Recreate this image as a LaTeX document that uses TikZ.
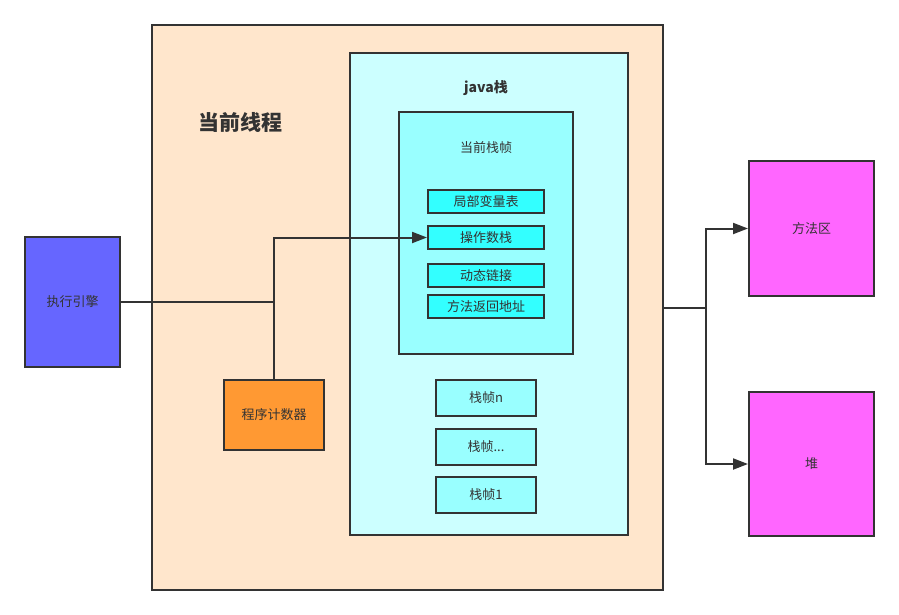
\documentclass[tikz,border=0pt]{standalone}
\usepackage{fontspec}
\usepackage{tikz}
\usetikzlibrary{arrows.meta}
\newfontfamily\cjk{Noto Sans CJK SC}
\definecolor{linec}{HTML}{333333}
\definecolor{peach}{HTML}{FFE6CC}
\definecolor{palecyan}{HTML}{CCFFFF}
\definecolor{midcyan}{HTML}{99FFFF}
\definecolor{brightcyan}{HTML}{33FFFF}
\definecolor{engineblue}{HTML}{6666FF}
\definecolor{pcorange}{HTML}{FF9933}
\definecolor{memmagenta}{HTML}{FF66FF}
\pgfdeclarelayer{edgelayer}
\pgfdeclarelayer{nodelayer}
\pgfsetlayers{nodelayer,main,edgelayer}
\tikzstyle{box}=[rectangle, draw=linec, line width=2pt, text=linec, font=\cjk\fontsize{13}{15}\selectfont, inner sep=0pt]
\tikzstyle{label}=[text=linec, font=\cjk\fontsize{13}{15}\selectfont, inner sep=0pt]
\tikzstyle{title}=[text=linec, font=\cjk\bfseries\fontsize{14}{16}\selectfont, inner sep=0pt]
\tikzstyle{link}=[draw=linec, line width=2pt]
\tikzstyle{arrowlink}=[draw=linec, line width=2pt, -{Triangle[length=15pt,width=11pt]}]

\begin{document}
\begin{tikzpicture}[x=1pt, y=-1pt]
				\useasboundingbox (0,0) rectangle (899,615);
				\begin{pgfonlayer}{nodelayer}
					\node [style=box, fill=peach, minimum width=511pt, minimum height=565pt] (thread) at (407.5, 307.5) {};
					\node [style=title, font=\cjk\bfseries\fontsize{21}{24}\selectfont] (threadlabel) at (240, 122) {当前线程};
					\node [style=box, fill=palecyan, minimum width=278pt, minimum height=482pt] (javastack) at (489, 294) {};
					\node [style=title] (stacklabel) at (486, 88) {java栈};
					\node [style=box, fill=midcyan, minimum width=174pt, minimum height=242pt] (curframe) at (486, 233) {};
					\node [style=label] (framelabel) at (486, 148) {当前栈帧};
					\node [style=box, fill=brightcyan, minimum width=116pt, minimum height=23pt] (locals) at (486, 201.5) {局部变量表};
					\node [style=box, fill=brightcyan, minimum width=116pt, minimum height=23pt] (opstack) at (486, 237.5) {操作数栈};
					\node [style=box, fill=brightcyan, minimum width=116pt, minimum height=23pt] (dynlink) at (486, 275.5) {动态链接};
					\node [style=box, fill=brightcyan, minimum width=116pt, minimum height=23pt] (retaddr) at (486, 306.5) {方法返回地址};
					\node [style=box, fill=midcyan, minimum width=100pt, minimum height=36pt] (framen) at (486, 398) {栈帧n};
					\node [style=box, fill=midcyan, minimum width=100pt, minimum height=36pt] (framedots) at (486, 447) {栈帧...};
					\node [style=box, fill=midcyan, minimum width=100pt, minimum height=36pt] (frameone) at (486, 495) {栈帧1};
					\node [style=box, fill=engineblue, minimum width=95pt, minimum height=130pt] (engine) at (72.5, 302) {执行引擎};
					\node [style=box, fill=pcorange, minimum width=100pt, minimum height=70pt] (pc) at (274, 415) {程序计数器};
					\node [style=box, fill=memmagenta, minimum width=125pt, minimum height=135pt] (methodarea) at (811.5, 228.5) {方法区};
					\node [style=box, fill=memmagenta, minimum width=125pt, minimum height=144pt] (heap) at (811.5, 464) {堆};
				\end{pgfonlayer}
				\begin{pgfonlayer}{edgelayer}
					\coordinate (join) at (pc.north |- engine.east);
					\coordinate (split) at (706, 307.5);
					\draw [style=link] (engine.east) to (join);
					\draw [style=arrowlink] (pc.north) |- (opstack.west);
					\draw [style=link] (thread.east) to (split);
					\draw [style=arrowlink] (split) |- (methodarea.west);
					\draw [style=arrowlink] (split) |- (heap.west);
				\end{pgfonlayer}
			\end{tikzpicture}
\end{document}
